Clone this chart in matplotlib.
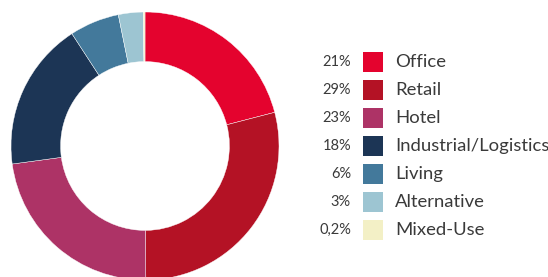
import matplotlib.pyplot as plt
from matplotlib.patches import Rectangle

# Daten
categories = ["Office", "Retail", "Hotel", "Industrial/Logistics", "Living", "Alternative", "Mixed-Use"]
shares = [21, 29, 23, 18, 6, 3, 0.2]
share_labels = ["21%", "29%", "23%", "18%", "6%", "3%", "0,2%"]
colors = ["#e4032e", "#b41225", "#ad3366", "#1c3555", "#43799b", "#9dc5d2", "#f3f0c6"]

W, H = 548, 277
fig = plt.figure(figsize=(W / 100, H / 100), dpi=100)

# Donut
cx, cy, r = 145, 146, 134
ax = fig.add_axes([(cx - r) / W, (H - cy - r) / H, 2 * r / W, 2 * r / H])
ax.pie(shares, colors=colors, startangle=90, counterclock=False,
       wedgeprops=dict(width=0.37, edgecolor="white", linewidth=0.3),
       radius=1)
ax.set_xlim(-1, 1)
ax.set_ylim(-1, 1)
ax.set_aspect("equal")
ax.axis("off")

# Legende
lax = fig.add_axes([0, 0, 1, 1])
lax.set_xlim(0, W)
lax.set_ylim(H, 0)
lax.axis("off")

font = "Lato"
y0, step = 62, 28
for i, (cat, lab, col) in enumerate(zip(categories, share_labels, colors)):
    y = y0 + i * step
    lax.add_patch(Rectangle((363, y - 10), 20, 20, facecolor=col, edgecolor="none"))
    lax.text(351, y, lab, ha="right", va="center", fontsize=10.5, color="#3a3a3a",
             family=font, fontweight="normal")
    lax.text(395, y, cat, ha="left", va="center", fontsize=13.3, color="#3a3a3a",
             family=font, fontweight="normal")

fig.savefig("out.png", dpi=100)
